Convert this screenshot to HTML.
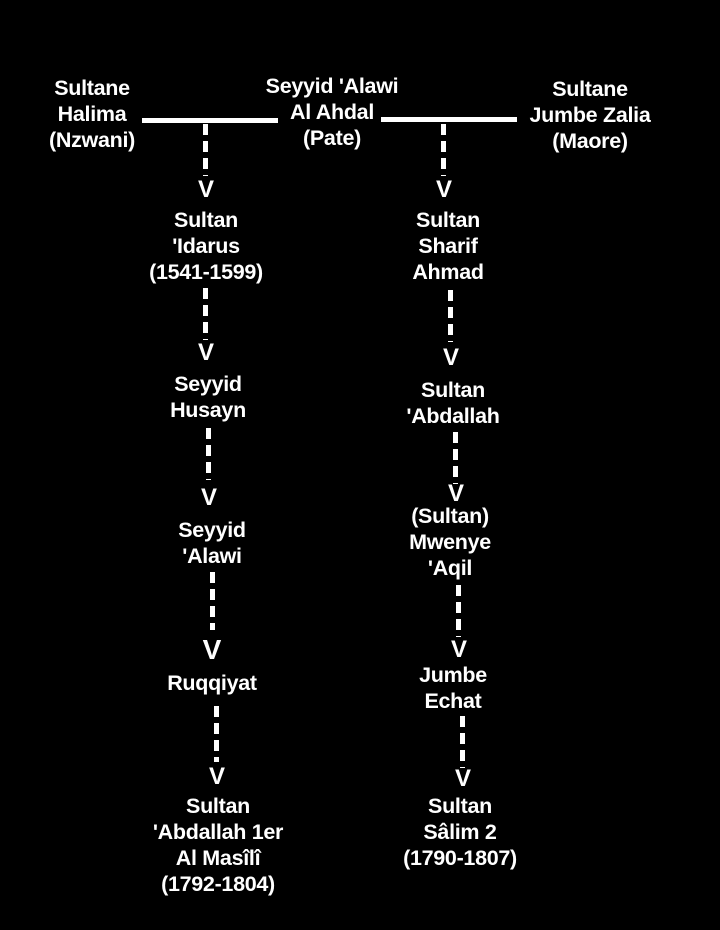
<!DOCTYPE html>
<html><head><meta charset="utf-8"><style>
body{margin:0;background:#000;width:720px;height:930px;position:relative;overflow:hidden;font-family:"Liberation Sans Narrow","Liberation Sans",sans-serif;color:#fff;font-weight:bold}
.t{position:absolute;width:220px;text-align:center;font-size:21.5px;line-height:26px;letter-spacing:-0.3px}
.d{position:absolute;width:5px;background:repeating-linear-gradient(to bottom,#fff 0 11px,transparent 11px 17px)}
.h{position:absolute;height:5px;background:#fff}
.v{position:absolute;width:30px;text-align:center;font-size:24px;line-height:24px;font-family:"Liberation Sans",sans-serif;font-weight:bold}
</style></head><body>
<div class="t" style="left:-18px;top:75px">Sultane<br>Halima<br>(Nzwani)</div>
<div class="t" style="left:222px;top:73px">Seyyid 'Alawi<br>Al Ahdal<br>(Pate)</div>
<div class="t" style="left:480px;top:76px">Sultane<br>Jumbe Zalia<br>(Maore)</div>
<div class="h" style="left:142px;top:118px;width:136px"></div>
<div class="h" style="left:381px;top:117px;width:136px"></div>

<div class="d" style="left:203px;top:124px;height:52px"></div>
<div class="v" style="left:191px;top:178px">V</div>
<div class="t" style="left:96px;top:207px">Sultan<br>'Idarus<br>(1541-1599)</div>
<div class="d" style="left:203px;top:288px;height:52px"></div>
<div class="v" style="left:191px;top:341px">V</div>
<div class="t" style="left:98px;top:371px">Seyyid<br>Husayn</div>
<div class="d" style="left:206px;top:428px;height:52px"></div>
<div class="v" style="left:194px;top:486px">V</div>
<div class="t" style="left:102px;top:517px">Seyyid<br>'Alawi</div>
<div class="d" style="left:210px;top:572px;height:58px"></div>
<div class="v" style="left:197px;top:638px;font-size:28px">V</div>
<div class="t" style="left:102px;top:670px">Ruqqiyat</div>
<div class="d" style="left:214px;top:706px;height:56px"></div>
<div class="v" style="left:202px;top:765px">V</div>
<div class="t" style="left:108px;top:793px">Sultan<br>'Abdallah 1er<br>Al Masîlî<br>(1792-1804)</div>

<div class="d" style="left:441px;top:124px;height:52px"></div>
<div class="v" style="left:429px;top:178px">V</div>
<div class="t" style="left:338px;top:207px">Sultan<br>Sharif<br>Ahmad</div>
<div class="d" style="left:448px;top:290px;height:52px"></div>
<div class="v" style="left:436px;top:346px">V</div>
<div class="t" style="left:343px;top:377px">Sultan<br>'Abdallah</div>
<div class="d" style="left:453px;top:432px;height:52px"></div>
<div class="v" style="left:441px;top:482px">V</div>
<div class="t" style="left:340px;top:503px">(Sultan)<br>Mwenye<br>'Aqil</div>
<div class="d" style="left:456px;top:585px;height:52px"></div>
<div class="v" style="left:444px;top:638px">V</div>
<div class="t" style="left:343px;top:662px">Jumbe<br>Echat</div>
<div class="d" style="left:460px;top:716px;height:52px"></div>
<div class="v" style="left:448px;top:767px">V</div>
<div class="t" style="left:350px;top:793px">Sultan<br>Sâlim 2<br>(1790-1807)</div>
</body></html>
